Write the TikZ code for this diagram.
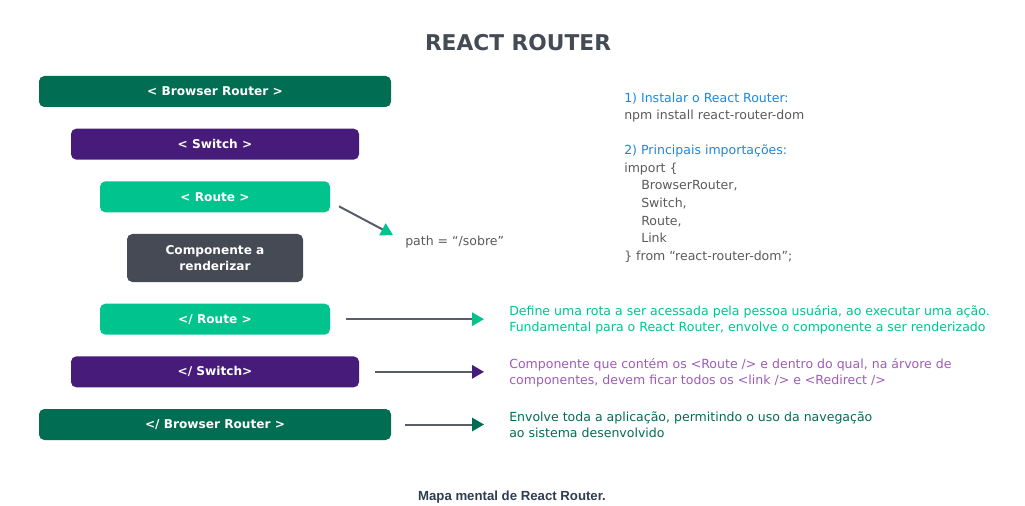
\documentclass[tikz,border=0pt]{standalone}
\usepackage{fontspec}
\setmainfont{DejaVu Sans}
\newfontfamily\capfont{Liberation Sans}
\usetikzlibrary{
  arrows.meta,
  positioning
}
\definecolor{rrBrowser}{HTML}{016D53}
\definecolor{rrSwitch}{HTML}{461B79}
\definecolor{rrRoute}{HTML}{00C38E}
\definecolor{rrComp}{HTML}{454A55}
\definecolor{rrTitle}{HTML}{454B55}
\definecolor{rrBlue}{HTML}{1A87E0}
\definecolor{rrText}{HTML}{5A5A5A}
\definecolor{rrPurple}{HTML}{9D5CB6}
\definecolor{rrLine}{HTML}{585D66}
\definecolor{rrCaption}{HTML}{2E3D4F}
\tikzset{
  rrbox/.style={
    rounded corners=4pt, inner sep=0pt, outer sep=0pt, minimum height=23.25pt,
    text=white, font=\fontsize{9.1}{12.5}\selectfont\bfseries, align=center
  },
  browser/.style={rrbox, fill=rrBrowser, minimum width=264pt},
  switchbox/.style={rrbox, fill=rrSwitch, minimum width=216pt},
  routebox/.style={rrbox, fill=rrRoute, minimum width=172.5pt},
  compbox/.style={rrbox, fill=rrComp, minimum width=132pt, minimum height=36pt},
  desc/.style={anchor=west, inner sep=0pt, align=left, font=\fontsize{9.4}{12}\selectfont},
  codeblock/.style={anchor=north west, inner sep=0pt, align=left, text=rrText, font=\fontsize{9.4}{13.15}\selectfont},
  pointer/.style={-{Triangle[length=9pt, width=10pt, color=#1]}, line width=1.5pt, draw=rrLine},
  tolabel/.style={pointer=#1, shorten <=12pt, shorten >=18.75pt}
}

\begin{document}
\begin{tikzpicture}[x=0.75pt, y=-0.75pt, node distance=16.25pt]
  \useasboundingbox (0,0) rectangle (1025,506);
  \node[font=\fontsize{16.3}{19}\selectfont\bfseries, text=rrTitle] (title) at (518,43) {REACT ROUTER};

  % opening and closing tags
  \node[browser] (bro) at (215,91.5) {< Browser Router >};
  \node[switchbox, below=of bro] (swo) {< Switch >};
  \node[routebox, below=of swo] (rto) {< Route >};
  \node[compbox, below=of rto] (comp) {Componente a\\renderizar};
  \node[routebox, below=of comp] (rtc) {</ Route >};
  \node[switchbox, below=of rtc] (swc) {</ Switch>};
  \node[browser, below=of swc] (brc) {</ Browser Router >};

  \node[desc, text=rrText] (pth) at (405,242) {path = “/sobre”};
  \draw[pointer=rrRoute] ([shift={(9,9.5)}]rto.east) -- ([shift={(-12,-7)}]pth.west);

  \node[codeblock] (code) at (624,92.5) {%
    {\color{rrBlue}1) Instalar o React Router:}\\
    npm install react-router-dom\\[13.15pt]
    {\color{rrBlue}2) Principais importações:}\\
    import \{\\
    \hspace*{12.75pt}BrowserRouter,\\
    \hspace*{12.75pt}Switch,\\
    \hspace*{12.75pt}Route,\\
    \hspace*{12.75pt}Link\\
    \} from “react-router-dom”;};

  % what each tag does
  \node[desc, text=rrRoute] (rtdesc) at (509,319.5)
    {Define uma rota a ser acessada pela pessoa usuária, ao executar uma ação.\\
     Fundamental para o React Router, envolve o componente a ser renderizado};
  \node[desc, text=rrPurple] (swdesc) at (509,372.5)
    {Componente que contém os <Route /> e dentro do qual, na árvore de\\
     componentes, devem ficar todos os <link /> e <Redirect />};
  \node[desc, text=rrBrowser] (brdesc) at (509,424.5)
    {Envolve toda a aplicação, permitindo o uso da navegação\\
     ao sistema desenvolvido};
  \draw[tolabel=rrRoute] (rtc.east) -- (rtc.east -| rtdesc.west);
  \draw[tolabel=rrSwitch] (swc.east) -- (swc.east -| swdesc.west);
  \draw[tolabel=rrBrowser, shorten <=10.5pt] (brc.east) -- (brc.east -| brdesc.west);

  \node[font=\capfont\fontsize{9.9}{12}\selectfont\bfseries, text=rrCaption] (caption) at (512,497) {Mapa mental de React Router.};
\end{tikzpicture}
\end{document}
